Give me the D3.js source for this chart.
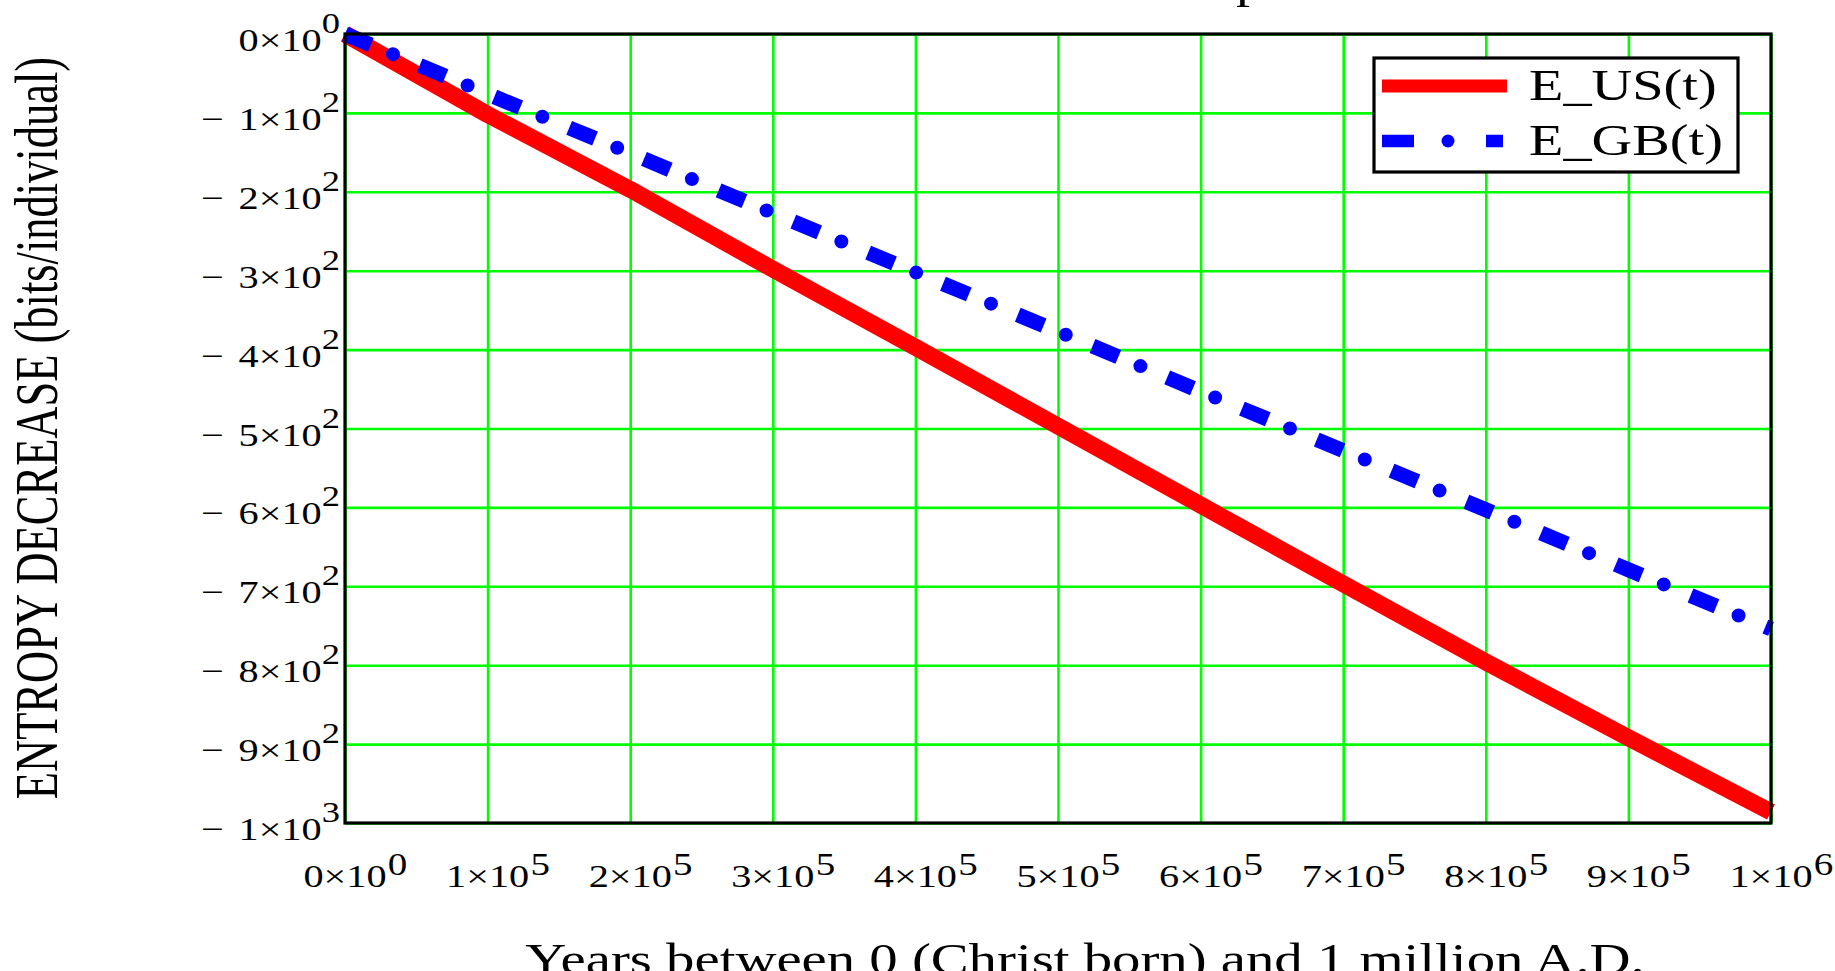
<!DOCTYPE html>
<html>
<head>
<meta charset="utf-8">
<script src="https://cdn.jsdelivr.net/npm/d3@7"></script>
<style>
  html, body { margin: 0; padding: 0; background: #ffffff; }
  svg { display: block; }
  text { font-family: "Liberation Serif", "Times New Roman", serif; fill: #000; }
</style>
</head>
<body>
<svg id="chart" width="1835" height="971"></svg>
<script>
// ---- data ----
const years = [0, 100000, 200000, 300000, 400000, 500000, 600000, 700000, 800000, 900000, 1000000];
const E_US = [0, -102, -197, -298, -397, -497, -597, -697, -796, -892, -986];
const E_GB = [0, -76, -151, -227, -302, -377, -453, -528, -603, -679, -754];
const xTickValues = [0, 100000, 200000, 300000, 400000, 500000, 600000, 700000, 800000, 900000, 1000000];
const xTickMain = ["0×10", "1×10", "2×10", "3×10", "4×10", "5×10", "6×10", "7×10", "8×10", "9×10", "1×10"];
const xTickExp = ["0", "5", "5", "5", "5", "5", "5", "5", "5", "5", "6"];
const yTickValues = [0, -100, -200, -300, -400, -500, -600, -700, -800, -900, -1000];
const yTickSign = ["", "−", "−", "−", "−", "−", "−", "−", "−", "−", "−"];
const yTickMain = ["0×10", "1×10", "2×10", "3×10", "4×10", "5×10", "6×10", "7×10", "8×10", "9×10", "1×10"];
const yTickExp = ["0", "2", "2", "2", "2", "2", "2", "2", "2", "2", "3"];
const seriesNames = ["E_US(t)", "E_GB(t)"];
const titleVisible = "p";
const xTitle = "Years between 0 (Christ born) and 1 million A.D.";
const yTitle = "ENTROPY DECREASE (bits/individual)";

// ---- layout ----
const L = 345, R = 1771, T = 34, B = 823;
const SX = 1.26; // horizontal glyph stretch of the original
const svg = d3.select("#chart");
const x = d3.scaleLinear().domain([0, 1000000]).range([L, R]);
const y = d3.scaleLinear().domain([-1000, 0]).range([B, T]);

// grid
const gx = svg.append("g").attr("transform", `translate(0,${B})`)
  .call(d3.axisBottom(x).tickValues(xTickValues).tickSize(-(B - T)).tickFormat(""));
gx.select(".domain").remove();
gx.selectAll("line").attr("stroke", "#00ff00").attr("stroke-width", 2.6);
const gy = svg.append("g").attr("transform", `translate(${L},0)`)
  .call(d3.axisLeft(y).tickValues(yTickValues).tickSize(-(R - L)).tickFormat(""));
gy.select(".domain").remove();
gy.selectAll("line").attr("stroke", "#00ff00").attr("stroke-width", 2.6);

// lines
const line = d3.line().x((d, i) => x(years[i])).y(d => y(d));
svg.append("path").datum(E_US).attr("d", line)
  .attr("fill", "none").attr("stroke", "#ff0000").attr("stroke-width", 17)
  .attr("stroke-linejoin", "round");
svg.append("path").datum(E_GB).attr("d", line)
  .attr("fill", "none").attr("stroke", "#0000ff").attr("stroke-width", 15)
  .attr("stroke-dasharray", "28 53").attr("stroke-linecap", "butt");
svg.append("path").datum(E_GB).attr("d", line)
  .attr("fill", "none").attr("stroke", "#0000ff").attr("stroke-width", 14)
  .attr("stroke-dasharray", "0 81").attr("stroke-dashoffset", -52).attr("stroke-linecap", "round");

// frame
svg.append("rect").attr("x", L).attr("y", T).attr("width", R - L).attr("height", B - T)
  .attr("fill", "none").attr("stroke", "#000").attr("stroke-width", 3.2);

// x tick labels
xTickValues.forEach((v, i) => {
  const g = svg.append("g").attr("transform", `translate(${x(v)},887) scale(${SX},1)`);
  const m = g.append("text").attr("text-anchor", "middle").attr("font-size", 32).text(xTickMain[i]);
  const w = m.node().getComputedTextLength();
  g.append("text").attr("x", w / 2 + 1).attr("y", -12).attr("font-size", 31).text(xTickExp[i]);
});

// y tick labels
yTickValues.forEach((v, i) => {
  const g = svg.append("g").attr("transform", `translate(340,${y(v) + 17}) scale(${SX},1)`);
  const t = g.append("text").attr("text-anchor", "end").attr("font-size", 32);
  if (yTickSign[i]) t.append("tspan").text(yTickSign[i] + " ");
  t.append("tspan").attr("dx", yTickSign[i] ? 4 : 0).text(yTickMain[i]);
  t.append("tspan").attr("dy", -18).attr("font-size", 29).text(yTickExp[i]);
});

// axis titles
svg.append("g").attr("transform", `translate(1085,974) scale(1.29,1)`)
  .append("text").attr("text-anchor", "middle").attr("font-size", 44).text(xTitle);
svg.append("g").attr("transform", `translate(57,428) rotate(-90) scale(1,1.38)`)
  .append("text").attr("text-anchor", "middle").attr("font-size", 44.5).text(yTitle);

// title (only the descender is inside the picture)
svg.append("g").attr("transform", `translate(1250,-2) scale(1.27,1)`)
  .append("text").attr("text-anchor", "middle").attr("font-size", 44).text(titleVisible);

// legend
const lg = svg.append("g");
lg.append("rect").attr("x", 1374).attr("y", 58).attr("width", 364).attr("height", 114)
  .attr("fill", "#fff").attr("stroke", "#000").attr("stroke-width", 3.2);
lg.append("line").attr("x1", 1382).attr("x2", 1507).attr("y1", 86).attr("y2", 86)
  .attr("stroke", "#ff0000").attr("stroke-width", 13);
lg.append("line").attr("x1", 1382).attr("x2", 1503).attr("y1", 141).attr("y2", 141)
  .attr("stroke", "#0000ff").attr("stroke-width", 12.5).attr("stroke-dasharray", "32 72");
lg.append("line").attr("x1", 1448).attr("x2", 1448).attr("y1", 141).attr("y2", 141)
  .attr("stroke", "#0000ff").attr("stroke-width", 13).attr("stroke-linecap", "round");
seriesNames.forEach((s, i) => {
  svg.append("g").attr("transform", `translate(1529,${100 + i * 55}) scale(1.28,1)`)
    .append("text").attr("font-size", 44).text(s);
});
</script>
</body>
</html>
